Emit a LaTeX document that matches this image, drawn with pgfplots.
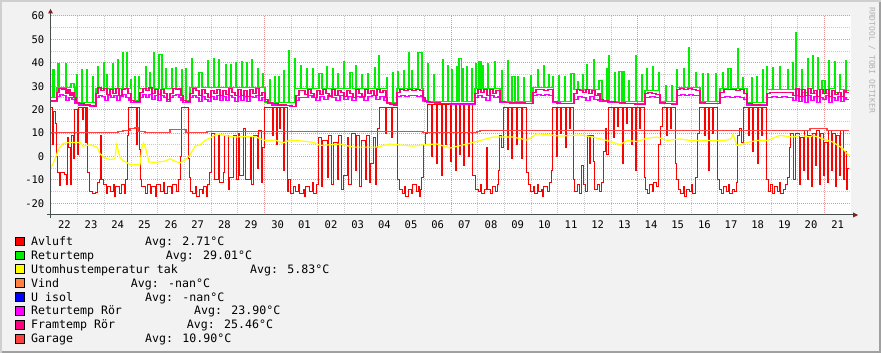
\documentclass[border=0pt]{standalone}
\usepackage{fontspec}
\setmainfont{DejaVu Sans Mono}
\usepackage{pgfplots}
\pgfplotsset{compat=1.18}
\definecolor{bgc}{RGB}{242,242,242}
\definecolor{shadea}{RGB}{207,207,207}
\definecolor{shadeb}{RGB}{160,160,160}
\definecolor{mgrid}{RGB}{230,150,150}
\definecolor{mingrid}{RGB}{200,200,200}
\definecolor{axc}{RGB}{70,80,78}
\definecolor{arrc}{RGB}{127,31,31}
\definecolor{cavluft}{RGB}{255,0,0}
\definecolor{cretur}{RGB}{0,238,0}
\definecolor{cutom}{RGB}{255,255,0}
\definecolor{cvind}{RGB}{255,128,64}
\definecolor{cuisol}{RGB}{0,0,255}
\definecolor{cretror}{RGB}{255,0,255}
\definecolor{cframror}{RGB}{255,0,128}
\definecolor{cgarage}{RGB}{255,64,64}
\begin{document}
\begin{tikzpicture}[x=1pt,y=1pt]
\fill[bgc] (0,0) rectangle (881,353);
\fill[shadea] (0,0) rectangle (2,353);
\fill[shadea] (0,351) rectangle (881,353);
\fill[shadeb] (879,0) rectangle (881,351);
\fill[shadeb] (2,0) rectangle (881,2);
\begin{axis}[
  at={(51pt,138pt)}, anchor=south west,
  scale only axis, width=800pt, height=199pt,
  xmin=51, xmax=851, ymin=-25, ymax=60,
  axis line style={draw=none},
  axis background/.style={fill=white},
  xtick={264.333,451,637.667,824.333}, xticklabels={,,,},
  minor xtick={77.667,104.333,131,157.667,184.333,211,237.667,291,317.667,344.333,371,397.667,424.333,477.667,504.333,531,557.667,584.333,611,664.333,691,717.667,744.333,771,797.667},
  ytick={-20,-10,0,10,20,30,40,50,60}, yticklabels={-20,-10,0,10,20,30,40,50,60},
  minor ytick={-15,-5,5,15,25,35,45,55},
  grid=both,
  major grid style={mgrid, dash pattern=on 1pt off 1pt, line width=1pt},
  minor grid style={mingrid, dash pattern=on 1pt off 1pt, line width=1pt},
  tick style={draw=none},
  extra x ticks={64.333,91,117.667,144.333,171,197.667,224.333,251,277.667,304.333,331,357.667,384.333,411,437.667,464.333,491,517.667,544.333,571,597.667,624.333,651,677.667,704.333,731,757.667,784.333,811,837.667},
  extra x tick labels={22,23,24,25,26,27,28,29,30,01,02,03,04,05,06,07,08,09,10,11,12,13,14,15,16,17,18,19,20,21},
  extra x tick style={grid=none},
  xticklabel style={font=\fontsize{10.5}{12}\selectfont, anchor=north, inner sep=0pt, yshift=-6pt},
  yticklabel style={font=\fontsize{10.5}{12}\selectfont, anchor=east, inner sep=0pt, xshift=-6.5pt},
  no marks, const plot,
]
% Avluft
\addplot[cavluft, line width=1pt] coordinates {
(51,21) (52,5) (53,19) (55,14) (56,0) (57,-7) (59,-12.5) (60,-7) (64,-7.5) (66,-12) (67,8) (68.5,4) (70,-12) (71.5,9) (73,-1) (74,20) (77,1) (78,21) (82,16) (83,21) (85,6) (86,21) (87.5,-7) (89,-15) (92,-16) (95,-15.5) (97,-11) (99,-10) (100,9) (101,-10) (103,-12) (106,-16) (107,-13) (110,-15) (113,-12) (114,-17) (115,-13) (119,-16) (121,-12) (124,-16) (125,-10) (127,9) (128,21) (135,21) (136,5) (137,21) (139,3) (140,-10) (141,-13) (145,-16) (147,-12) (150,-16) (151,-13) (155,-17) (156,-12) (160,-15) (163,-11) (164,-16) (167,-13) (171,-16) (172,-12) (176,-15) (178,-10) (180,0) (181,21) (187,21) (188,-1) (189,-9) (190,-15) (192,-16) (195,-13) (196,-17) (199,-14) (202,-16) (203,-13) (206,-17) (207,-12) (209,-7) (211,10) (214,-10) (218,9) (219,-11) (223,-7) (224,9) (228,-14) (229,-9) (233,9) (236,-10) (238,10) (239,-8) (243,12) (245,-10) (250,8) (251,-12) (253,9) (257,-5) (258,11) (261,-11) (262,4) (264,21) (271,21) (272,9) (273,21) (276,5) (277,21) (279,12) (280,21) (283,-6) (284,21) (287,-15) (288,-10) (290,-16) (293,-13) (295,-15) (298,-12) (299,-16) (303,-14) (304,-17) (305,-13) (309,-15) (312,-11) (313,-16) (316,-12) (318,8) (321,-13) (322,7) (327,-9) (328,9) (331,-12) (333,6) (337,-10) (338,9) (341,-14) (343,-8) (347,8) (348,-12) (351,10) (355,-6) (356,9) (359,-13) (361,7) (365,-10) (366,9) (369,-11) (370,-3) (373,8) (375,-12) (376,4) (377,12) (379,21) (385,10) (386,21) (391,8) (392,21) (396,21) (397,-10) (399,-14) (402,-16) (404,-13) (405,-17) (408,-14) (411,-16) (412,-12) (416,-15) (418,-13) (419,-17) (420,-14) (421,-9) (423,5) (425,10) (427,22) (431,0) (432,22) (436,-3) (437,22) (441,-8) (442,22) (445,5) (446.5,22) (450,-2) (451,22) (455,-6) (456,22) (459,1) (460,22) (463,-4) (464,22) (468,0) (469,22) (472,-8) (475,-14) (478,-15) (480,-12) (481,-16) (484,-14) (486,4) (487,-14) (490,-16) (492,-13) (495,-15) (497,-12) (498,-6) (499,9) (501,4) (503,21) (507,3) (508,21) (511,-1) (512,21) (516,5) (517,21) (521,-1) (522,21) (525,21) (526,-7) (528,-12) (530,-15) (533,-13) (534,-16) (537,-12) (538,-15) (541,-14) (542,-17) (543,-13) (547,-15) (549,-11) (551,-6) (552,21) (556,0) (557,21) (560,10) (561,21) (565,4) (566,21) (569,12) (570,21) (573,-10) (574,-15) (577,-12) (579,-16) (581,-4) (583,-12) (585,-15) (587,9) (589,-3) (590,9) (593,-2) (594,-14) (597,-12) (599,-15) (601,-11) (603,2) (605,12) (606,1) (608,21) (613,8) (614,21) (617,13) (618,21) (622,-3) (623,21) (626,14) (627,21) (631,5) (632,21) (635,-6) (636,21) (639,12) (640,21) (644,-9) (645,-14) (647,-16) (649,-12) (652,-15) (653,-11) (656,-13) (658,5) (660,13) (662,21) (666,9) (667,21) (670,12) (671,21) (675,-3) (676,-10) (678,-14) (680,-16) (683,-13) (684,-17) (686,-14) (689,-15) (691,-12) (692,-16) (695,-9) (697,10) (699,21) (704,9) (705,21) (708,-6) (709,21) (712,10) (713,21) (717,-10) (719,-14) (721,-16) (723,-13) (726,-15) (728,-12) (729,-16) (732,-14) (734,-15) (736,-11) (737,9) (739,12) (741,6) (743,21) (748,9) (749,21) (752,2) (753,21) (757,-3) (758,21) (761,9) (762,21) (766,-10) (768,-15) (770,-12) (772,-16) (774,-13) (777,-15) (779,-11) (780,-16) (783,-14) (785,-12) (787,-9) (789,4) (790,10) (793,-10) (795,10) (799,-12) (800,8) (803,-6) (804,11) (807,-10) (808,9) (811,-13) (812,10) (815,-4) (816,11) (819,-12) (820,10) (823,-8) (824,6) (827,-11) (828,11) (831,-6) (832,10) (835,-13) (836,9) (839,-8) (840,11) (843,-10) (844,2) (846,-14) (847,-5) (849,-5)
};
% Returtemp
\addplot[cretur, line width=1.1pt] coordinates {
(51,25) (53,37) (54.4,25) (57,29.5) (58,39.5) (59.4,29.5) (65.3,39.5) (66.7,29.5) (71,31) (74,29.5) (75,23) (76.3,35) (77.7,23) (81.3,37) (82.7,23) (86.3,37) (87.7,23) (92.3,34) (93.7,23) (96,29) (97.3,38.5) (98.7,29) (103.3,40) (104.7,29) (106.3,35) (107.7,29) (112.3,39.6) (113.7,29) (117.3,41.3) (118.7,29) (122.3,44.6) (123.7,29) (126.3,44.2) (127.7,29) (130.3,33) (131.7,24) (134.3,34) (135.7,24) (138.3,34) (139.7,29) (145.3,38.5) (146.7,29) (149.3,36) (150.7,29) (153.3,44.6) (154.7,29) (159,43.4) (162,29) (165.3,37.7) (166.7,29) (171.3,37.7) (172.7,29) (175.3,38) (176.7,29) (181.3,37) (182.7,24) (185.3,37.5) (186.7,24) (190,29.5) (191.3,41.7) (192.7,29.5) (199,36) (202,29.5) (207.3,41) (208.7,29.5) (213.3,41.7) (214.7,29.5) (218.3,41.3) (219.7,29.5) (225.3,39.2) (226.7,29.5) (230.3,39.2) (231.7,29.5) (235.3,40) (236.7,29.5) (241.3,40.5) (242.7,29.5) (246.3,40) (247.7,29.5) (251.3,41.3) (252.7,29.5) (257.3,37.5) (258.7,29.5) (262.3,35.3) (263.7,29.5) (265,23) (269.3,33) (270.7,23) (274.3,34) (275.7,23) (278.3,34) (279.7,23) (283.3,36.7) (284.7,23) (288.3,45.3) (289.7,23) (294.3,42) (295.7,29) (300.3,39) (301.7,29) (306.3,37.5) (307.7,29) (312.3,37.5) (313.7,29) (319,35.3) (322,29) (326.3,38.2) (327.7,29) (332.3,37.5) (333.7,29) (337.3,35.3) (338.7,29) (343.3,40.4) (344.7,29) (350,36) (352.5,29) (355.3,38.9) (356.7,29) (361.3,35) (362.7,29) (367.3,35.3) (368.7,29) (374.3,38) (375.7,29) (378.3,43) (379.7,29) (386.3,33.8) (387.7,23) (392.3,36) (393.7,23) (397,29) (397.3,36.3) (398.7,29) (403.3,36.7) (404.7,29) (408.3,44.3) (409.7,29) (411.3,36.7) (412.7,29) (418,44.3) (422,29) (423,23.3) (427.3,39.6) (428.7,23.3) (433.3,35) (434.7,23.3) (442.3,41.3) (443.7,23.3) (447.3,38.9) (448.7,23.3) (451.3,37) (452.7,23.3) (456.3,38.2) (457.7,23.3) (459,41.8) (461.3,23.3) (462.3,37.5) (463.7,23.3) (466.3,38.2) (467.7,23.3) (471.3,37.5) (472.7,23.3) (475,29) (475.3,39.6) (476.7,29) (479,40.4) (481,29) (482.3,38.9) (483.7,29) (487.3,39.6) (488.7,29) (494.3,40.5) (495.7,29) (500,23.5) (501.3,36.7) (502.7,23.5) (507.3,41) (508.7,23.5) (512,34) (515,23.5) (517.3,34) (518.7,23.5) (523.3,33.8) (524.7,23.5) (530.3,34.5) (531.7,23.5) (533,29.5) (537.3,37) (538.7,29.5) (543.3,38.9) (544.7,29.5) (548.3,35) (549.7,29.5) (552.3,34) (553.7,23.3) (558.3,34.5) (559.7,23.3) (564.3,34) (565.7,23.3) (571,35.3) (574,28.5) (577.3,32) (578.7,28.5) (582.3,35) (583.7,28.5) (586.3,39.2) (587.7,28.5) (593.3,41.3) (594.7,28.5) (599,32.5) (602,23.5) (606.3,37.5) (607.7,23.5) (608.3,42.9) (609.7,23.5) (614.3,36) (615.7,23.5) (619,36.3) (622,23.5) (623.3,36.3) (624.7,23.5) (628.3,32.5) (629.7,23.5) (635.3,43.2) (636.7,23.5) (641.3,34.8) (642.7,23.5) (645,28) (646.3,37.7) (647.7,28) (652.3,38.2) (653.7,28) (658.3,36) (659.7,23.3) (665.3,30.4) (666.7,23.3) (671.3,30.4) (672.7,23.3) (676.3,37) (677.7,29.5) (683.3,37.5) (684.7,29.5) (688.3,46.7) (689.7,29.5) (695.3,36) (696.7,29.5) (700,23.3) (702.3,35.5) (703.7,23.3) (707.3,35.5) (708.7,23.3) (715.3,35.5) (716.7,23.3) (720,29) (722.3,36) (723.7,29) (728,37.5) (731,29) (737.3,46) (738.7,29) (742.3,33.8) (743.7,29) (747,23) (751.3,33.5) (752.7,23) (756.3,34) (757.7,23) (762.3,37) (763.7,23) (766.3,38.2) (767.7,28.5) (772.3,38) (773.7,28.5) (779.3,38.2) (780.7,28.5) (787.3,37.2) (788.7,28.5) (792.3,40) (793.7,28.5) (795.3,53) (796.7,28.5) (801.3,37) (802.7,27.5) (807.3,41.8) (808.7,29) (812.3,42.9) (813.7,27) (817.3,42.2) (818.7,28.5) (822,32.5) (825,27) (828.3,41) (829.7,29) (834.3,40.4) (835.7,27.5) (839.3,34.8) (840.7,28.5) (845.3,41) (846.7,28) (849,28)
};
% Utomhustemperatur tak
\addplot[cutom, line width=1.2pt, sharp plot] coordinates {
(51,-4.7) (53,-3) (56,0) (58,2.5) (60,4) (63,5.6) (70,6) (80,6) (83,4.4) (90,5) (97,4) (100,1.2) (104,-0.4) (110,-1.3) (115,-1) (116.5,5) (118,3) (120,-0.5) (123,-1.7) (130,-3.4) (140,-3.4) (142,4) (143.5,5.8) (146,3) (149,-2.4) (155,-2.5) (165,-2) (170,-1) (175,-2) (180,-2.7) (185,-1.5) (190,0.7) (195,4.4) (200,5) (205,6.8) (212,8.3) (217,9.7) (225,9) (235,8.3) (245,8.5) (255,8.5) (265,6.8) (275,7) (283,5.8) (290,7) (297,6.8) (313,6.1) (320,4.7) (340,5.3) (353,4) (377,4) (390,5.3) (413,4.4) (423,5) (437,5.3) (450,3.6) (467,5.3) (480,6.8) (493,8.3) (513,8.3) (527,7) (537,9.7) (547,9.3) (560,8.7) (580,9.2) (593,8.3) (607,6.8) (620,5) (627,6.8) (637,6.4) (647,7.8) (657,8.3) (667,6.8) (680,7.5) (690,6.8) (713,6.8) (727,7) (731,7.5) (733,9.4) (735,7) (737,4.7) (747,6) (757,6.8) (767,6.8) (780,9) (793,8.3) (800,9) (810,8.3) (813,9) (823,7.5) (833,6.1) (843,3.3) (847,1.1) (849,0.5)
};
% Returtemp Ror
\addplot[cretror, line width=1.1pt] coordinates {
(51,23.5) (57,25.5) (60,26.5) (63,26) (66,24) (69,25) (72,24.5) (75,22.5) (79,22) (84,21.8) (90,21.5) (96,25) (99,26) (102,25.5) (105,24) (108,26) (111,25) (114,26) (117,24) (120,25.5) (123,26.5) (126,25) (129,24) (131,23) (137,23) (140,25) (143,26.5) (146,25) (149,26.5) (152,24.5) (155,26) (158,24) (161,26) (164,25) (167,23.5) (170,25) (173,26) (176,26.5) (179,25) (181,24) (183,23) (190,25) (193,26) (196,25) (199,23.5) (202,25.5) (205,24.5) (208,23.5) (211,25.5) (214,24.5) (217,26) (220,24) (223,25.5) (226,24) (229,26) (232,25) (235,23.5) (238,25.5) (241,24) (244,25.5) (247,23.5) (250,25.5) (253,25) (256,26) (259,24) (262,25) (265,23.5) (268,22.5) (272,22) (280,21.8) (290,21.5) (296,24) (299,25.3) (304,25.3) (308,26) (312,25) (316,24) (320,25.5) (324,24.5) (328,26) (332,25) (336,24) (340,26) (344,24.5) (348,25.5) (352,24) (356,25.5) (360,25) (364,24) (368,25.5) (372,26) (376,24.5) (380,25.5) (384,24) (387,22.5) (397,25.5) (401,26) (405,25.5) (409,26) (413,26) (417,25.5) (421,26) (423,24) (427,23) (435,22.5) (450,22.3) (475,25) (478,26) (482,25) (486,24) (490,26) (494,25) (498,25.5) (500,23) (510,22.8) (533,26) (537,26.5) (541,26) (545,26.5) (549,26) (553,23) (560,22.5) (574,24.5) (578,25.5) (582,25) (586,24) (590,25.5) (594,24.5) (598,24) (600,23.5) (608,23) (620,22.5) (645,25) (650,25.5) (655,25) (660,22.5) (677,26) (681,26.5) (685,26) (689,26.5) (693,26) (697,26) (700,22.5) (720,25) (725,25.5) (730,25.3) (735,25.5) (740,25) (744,24.5) (747,22) (767,25) (772,25.5) (777,25.3) (782,25.5) (787,25.3) (793,24) (796,26) (799,23.5) (802,25.5) (805,23) (808,26) (811,24) (814,25.5) (817,23) (820,25) (823,24.5) (826,26) (829,23) (832,25) (835,24) (838,25.5) (841,23.5) (844,25) (846,24.5) (849,24.5)
};
% Framtemp Ror
\addplot[cframror, line width=1.1pt] coordinates {
(51,24) (57,27.5) (59,29) (62,28.5) (64,29) (66,27) (68,28.5) (70,26) (72,27.5) (74,25) (76,23) (79,22.5) (84,22) (90,21.8) (94,21.5) (96,27) (98,29.5) (101,28) (104,29) (107,26.5) (110,28.5) (113,27) (116,29) (119,26) (122,28.5) (125,29) (128,27) (131,24) (134,23.5) (137,23.5) (140,27.5) (143,29) (146,28) (149,29.5) (152,27) (155,28.5) (158,26.5) (161,28.5) (164,27) (167,24.5) (170,27) (173,29) (176,28.5) (179,29) (181,26) (183,24) (186,23.5) (190,27) (193,29) (196,28) (199,26) (202,28.5) (205,27) (208,25) (211,28) (214,27) (217,28.5) (220,26) (223,28) (226,26.5) (229,29) (232,27.5) (235,26) (238,28.5) (241,26) (244,28) (247,25.5) (250,28.5) (253,27) (256,29) (259,26) (262,27.5) (265,24.5) (268,23) (272,22.5) (278,22) (286,21.8) (292,21.5) (296,26) (299,28) (302,28) (305,26.5) (308,28.5) (311,27) (314,25) (317,28) (320,26.5) (323,28.5) (326,27) (329,25.5) (332,28.5) (335,26) (338,28) (341,27.5) (344,25.5) (347,28) (350,27) (353,25) (356,28.5) (359,27) (362,25.5) (365,28.5) (368,27) (371,28) (374,26) (377,28.5) (380,27.5) (383,28) (386,25) (387,23) (390,22.3) (394,22) (397,27.5) (400,28.5) (404,28) (408,28.5) (412,28) (416,28.5) (420,28) (423,25) (425,23.5) (430,23) (440,22.6) (450,22.5) (475,27) (478,28.5) (481,27.5) (484,28.5) (487,26) (490,28.5) (493,27) (496,28) (500,23.5) (505,23) (525,22.8) (533,27.5) (536,28.5) (544,28) (548,28.5) (553,23.5) (557,22.8) (565,22.5) (574,27) (577,28.5) (580,28) (583,27.5) (586,28.5) (589,27) (592,28) (595,26) (598,27) (600,24.5) (603,24) (608,23.5) (615,23) (625,22.5) (635,22.3) (645,27) (648,27.5) (652,27) (656,26.5) (660,23) (665,22.5) (672,22.3) (677,28.5) (680,29) (684,28.5) (688,29) (692,28.5) (696,28) (700,23) (705,22.5) (720,27.5) (724,28.5) (736,28) (740,28.5) (744,27) (747,22.5) (752,22) (760,21.8) (767,27) (770,27.5) (793,26) (796,29) (799,25.5) (802,28.5) (805,26) (808,29) (811,27) (814,28) (817,25.5) (820,28.5) (823,27) (826,28.5) (829,25.5) (832,28) (835,26.5) (838,27.5) (841,25.5) (844,28) (846,27.5) (849,27.5)
};
% Garage
\addplot[cgarage, line width=1.1pt] coordinates {
(51,10.2) (70,10.4) (72,10.2) (100,10.1) (118,10.6) (123,11.1) (130,11.8) (135,12.3) (138,10.8) (145,10.1) (170,11.4) (186,10.2) (207,10.6) (210,10.5) (300,10.8) (423,10.4) (477,10.6) (480,10.9) (580,11) (810,11.8) (827,11.1) (849,11.1)
};
\end{axis}
% axes
\draw[axc, line width=1pt] (47,138) -- (853,138);
\draw[axc, line width=1pt] (50.5,135) -- (50.5,340);
\fill[arrc] (853,140.5) -- (858,138) -- (853,135.5) -- cycle;
\fill[arrc] (48,339.5) -- (50.5,344) -- (53,339.5) -- cycle;
% watermark
\node[rotate=-90, anchor=west, inner sep=0pt, text=black!30, font=\fontsize{8}{9}\selectfont] at (872,346) {RRDTOOL / TOBI OETIKER};
% legend
\begin{scope}[font=\fontsize{11.6}{13}\selectfont]
\foreach \c/\name/\ax/\avg [count=\i from 0] in {cavluft/Avluft/145/{Avg: 2.71°C}, cretur/Returtemp/165.7/{Avg: 29.01°C}, cutom/Utomhustemperatur tak/250/{Avg: 5.83°C}, cvind/Vind/130.7/{Avg: -nan°C}, cuisol/U isol/145/{Avg: -nan°C}, cretror/Returtemp Rör/194/{Avg: 23.90°C}, cframror/Framtemp Rör/186.7/{Avg: 25.46°C}, cgarage/Garage/145/{Avg: 10.90°C}} {
  \filldraw[fill=\c, draw=black, line width=0.9pt] (15.5,{107.5-13.96*\i}) rectangle (24,{116-13.96*\i});
  \node[anchor=base west, inner sep=0pt] at (31,{107.8-13.96*\i}) {\name};
  \node[anchor=base west, inner sep=0pt] at (\ax,{107.8-13.96*\i}) {\avg};
}
\end{scope}
\end{tikzpicture}
\end{document}
